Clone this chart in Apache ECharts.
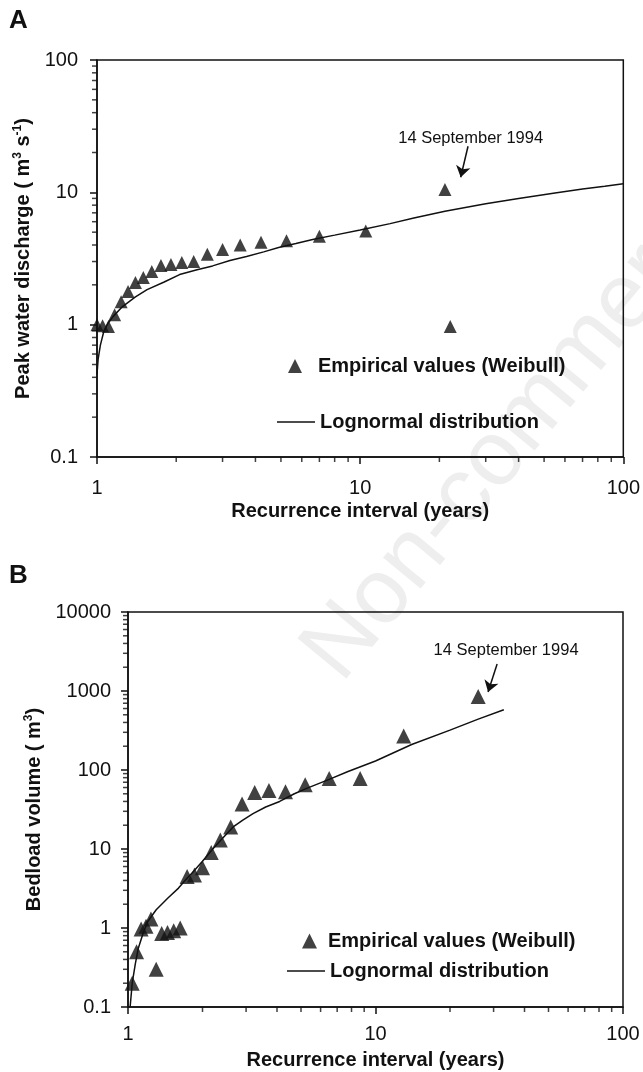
<!DOCTYPE html>
<html>
<head>
<meta charset="utf-8">
<script src="https://cdn.jsdelivr.net/npm/echarts@6/dist/echarts.min.js"></script>
<style>
  html, body { margin: 0; padding: 0; background: #fff; }
  #chart { width: 643px; height: 1072px; }
</style>
</head>
<body>
<div id="chart"></div>
<script>
// panel A: peak water discharge
const tA = [1.0, 1.05, 1.105, 1.167, 1.235, 1.3125, 1.4, 1.5, 1.615, 1.75, 1.91, 2.1, 2.33, 2.625, 3.0, 3.5, 4.2, 5.25, 7.0, 10.5, 21.0, 22.0]
const qA = [1.0, 0.98, 0.97, 1.19, 1.49, 1.78, 2.08, 2.27, 2.52, 2.8, 2.85, 2.95, 3.0, 3.4, 3.7, 4.0, 4.2, 4.3, 4.65, 5.1, 10.5, 0.97]
const fitTA = [1.0, 1.01, 1.03, 1.06, 1.1, 1.15, 1.25, 1.4, 1.55, 1.8, 2.06, 2.4, 2.75, 3.2, 3.7, 4.3, 4.9, 5.7, 6.6, 8, 10, 13, 16, 21, 30, 40, 55, 70, 85, 100]
const fitQA = [0.42, 0.55, 0.7, 0.88, 1.02, 1.15, 1.37, 1.62, 1.84, 2.1, 2.39, 2.6, 2.78, 3.05, 3.27, 3.55, 3.83, 4.1, 4.4, 4.75, 5.2, 5.8, 6.4, 7.2, 8.2, 9.0, 9.9, 10.6, 11.1, 11.6]

// panel B: bedload volume
const tB = [26, 13, 8.67, 6.5, 5.2, 4.33, 3.71, 3.25, 2.89, 2.6, 2.36, 2.17, 2.0, 1.857, 1.733, 1.625, 1.53, 1.444, 1.368, 1.3, 1.238, 1.182, 1.13, 1.083, 1.04]
const vB = [850, 270, 78, 78, 65, 53, 55, 52, 37, 19, 13, 9, 5.8, 4.7, 4.5, 1.0, 0.92, 0.88, 0.85, 0.3, 1.3, 1.05, 0.97, 0.5, 0.2]
const fitTB = [1.02, 1.04, 1.07, 1.1, 1.15, 1.2, 1.3, 1.45, 1.6, 1.7, 1.85, 2.0, 2.2, 2.4, 2.66, 2.9, 3.2, 3.6, 4.1, 4.7, 5.3, 6.5, 7.7, 10, 14, 20, 26, 33]
const fitVB = [0.1, 0.2, 0.35, 0.55, 0.85, 1.2, 1.7, 2.4, 3.2, 4.0, 5.3, 7, 10, 13.5, 19, 23, 28, 34, 40, 50, 59, 76, 95, 130, 210, 320, 440, 580]

// minor tick positions
const minorX = [2, 3, 4, 5, 6, 7, 8, 9, 20, 30, 40, 50, 60, 70, 80, 90]
const minorYA = [0.2, 0.3, 0.4, 0.5, 0.6, 0.7, 0.8, 0.9, 2, 3, 4, 5, 6, 7, 8, 9, 20, 30, 40, 50, 60, 70, 80, 90]
const minorYB = [0.2, 0.3, 0.4, 0.5, 0.6, 0.7, 0.8, 0.9, 2, 3, 4, 5, 6, 7, 8, 9, 20, 30, 40, 50, 60, 70, 80, 90,
  200, 300, 400, 500, 600, 700, 800, 900, 2000, 3000, 4000, 5000, 6000, 7000, 8000, 9000]

// annotation: arrow from / to, label position
const noteA = { label: [26.3, 25.7], from: [25.7, 22.3], to: [24.1, 13.0] }
const noteB = { label: [33.7, 3300], from: [31, 2200], to: [28.5, 970] }

const FONT = 'Liberation Sans, Arial, sans-serif'
const INK = '#111'
const EMP = 'Empirical values (Weibull)'
const LOGN = 'Lognormal distribution'
const zip = (a, b) => a.map((v, i) => [v, b[i]])
const fmt = v => String(+(+v).toPrecision(4))

function xAxisCfg(grid, margin, gap) {
  return {
    type: 'log', logBase: 10, min: 1, max: 100, gridIndex: grid,
    axisLine: { onZero: false, lineStyle: { color: INK, width: 1.5 } },
    axisTick: { length: 7, lineStyle: { color: INK, width: 1.5 } },
    axisLabel: { fontSize: 20, fontFamily: FONT, color: INK, margin: margin, formatter: fmt },
    splitLine: { show: false },
    name: 'Recurrence interval (years)', nameLocation: 'middle', nameGap: gap,
    nameTextStyle: { fontSize: 20, fontWeight: 'bold', fontFamily: FONT, color: INK }
  }
}

function yAxisCfg(grid, min, max, name, margin, gap) {
  return {
    type: 'log', logBase: 10, min: min, max: max, gridIndex: grid, splitNumber: 5,
    axisLine: { onZero: false, lineStyle: { color: INK, width: 1.5 } },
    axisTick: { length: 7, lineStyle: { color: INK, width: 1.5 } },
    axisLabel: { fontSize: 20, fontFamily: FONT, color: INK, margin: margin, formatter: fmt },
    splitLine: { show: false },
    name: name, nameLocation: 'middle', nameGap: gap,
    nameTextStyle: {
      fontSize: 20, fontWeight: 'bold', fontFamily: FONT, color: INK,
      rich: { sup: { fontSize: 12, fontWeight: 'bold', fontFamily: FONT, color: INK, padding: [0, 0, 12, 0] } }
    }
  }
}

function tickSeries(x, y, data, horizontal) {
  return {
    type: 'scatter', name: 'ticks', xAxisIndex: x, yAxisIndex: y, silent: true, clip: false,
    symbol: 'rect',
    symbolSize: horizontal ? [5, 1.5] : [1.5, 5],
    symbolOffset: horizontal ? [-2.5, 0] : [0, 2.5],
    itemStyle: { color: INK },
    data: data, z: 3
  }
}

function note(n, size) {
  return {
    markLine: {
      silent: true, symbolSize: 11,
      lineStyle: { color: INK, width: 1.5, type: 'solid' },
      label: { show: false },
      data: [[{ coord: n.from, symbol: 'none' }, { coord: n.to, symbol: 'arrow' }]]
    },
    markPoint: {
      silent: true, symbol: 'rect', symbolSize: 1,
      itemStyle: { color: 'rgba(0,0,0,0)' },
      label: { show: true, position: 'inside', formatter: '14 September 1994', fontSize: size, fontFamily: FONT, color: INK },
      data: [{ coord: n.label }]
    }
  }
}

// one legend per entry so the triangle keeps its shape and the line keeps its length
function legendCfg(left, top, name, icon, w, h, padLeft) {
  return {
    left: left, top: top, orient: 'vertical', padding: 0,
    itemWidth: w, itemHeight: h, selectedMode: false,
    textStyle: { fontSize: 20, lineHeight: 20, fontWeight: 'bold', fontFamily: FONT, color: INK, padding: [0, 0, 0, padLeft] },
    data: [{ name: name, icon: icon, itemStyle: { color: INK } }]
  }
}

const chart = echarts.init(document.getElementById('chart'))

const option = {
  animation: false,
  backgroundColor: '#fff',
  grid: [
    { left: 97, top: 60, width: 528, height: 397, show: true, borderColor: INK, borderWidth: 1.5 },
    { left: 128, top: 612, width: 495, height: 395, show: true, borderColor: INK, borderWidth: 1.5 }
  ],
  xAxis: [xAxisCfg(0, 21, 44), xAxisCfg(1, 17, 43)],
  yAxis: [
    yAxisCfg(0, 0.1, 100, 'Peak water discharge ( m{sup|3} s{sup|-1})', 19, 48),
    yAxisCfg(1, 0.1, 10000, 'Bedload volume ( m{sup|3})', 17, 76)
  ],
  legend: [
    legendCfg(288, 356, EMP, 'triangle', 14, 14, 11),
    legendCfg(277, 412, LOGN, 'path://M0,0H38V1.6H0Z', 38, 1.6, 0),
    legendCfg(302, 931, EMP, 'triangle', 15, 15, 6),
    legendCfg(287, 961, LOGN, 'path://M0,0H38V1.6H0Z', 38, 1.6, 0)
  ],
  graphic: [
    { type: 'text', left: 9, top: 8, style: { text: 'A', font: 'bold 26px ' + FONT, fill: INK } },
    { type: 'text', left: 9, top: 563, style: { text: 'B', font: 'bold 26px ' + FONT, fill: INK } },
    {
      type: 'text', x: 322, y: 668, rotation: 0.88, z: -10, silent: true,
      style: { text: 'Non-commercial', fontSize: 92, fontFamily: FONT, fill: '#eeeeee', textVerticalAlign: 'middle' }
    }
  ],
  series: [
    Object.assign({
      type: 'scatter', name: EMP, xAxisIndex: 0, yAxisIndex: 0,
      symbol: 'triangle', symbolSize: 13, clip: false, itemStyle: { color: INK },
      data: zip(tA, qA), z: 4
    }, note(noteA, 16.5)),
    {
      type: 'line', name: LOGN, xAxisIndex: 0, yAxisIndex: 0,
      symbol: 'none', smooth: false, itemStyle: { color: INK }, lineStyle: { color: INK, width: 1.5 },
      data: zip(fitTA, fitQA), z: 3
    },
    tickSeries(0, 0, minorX.map(v => [v, 0.1]), false),
    tickSeries(0, 0, minorYA.map(v => [1, v]), true),
    Object.assign({
      type: 'scatter', name: EMP, xAxisIndex: 1, yAxisIndex: 1,
      symbol: 'triangle', symbolSize: 15, clip: false, itemStyle: { color: INK },
      data: zip(tB, vB), z: 4
    }, note(noteB, 16.5)),
    {
      type: 'line', name: LOGN, xAxisIndex: 1, yAxisIndex: 1,
      symbol: 'none', smooth: false, itemStyle: { color: INK }, lineStyle: { color: INK, width: 1.5 },
      data: zip(fitTB, fitVB), z: 3
    },
    tickSeries(1, 1, minorX.map(v => [v, 0.1]), false),
    tickSeries(1, 1, minorYB.map(v => [1, v]), true)
  ]
}

chart.setOption(option)
</script>
</body>
</html>
